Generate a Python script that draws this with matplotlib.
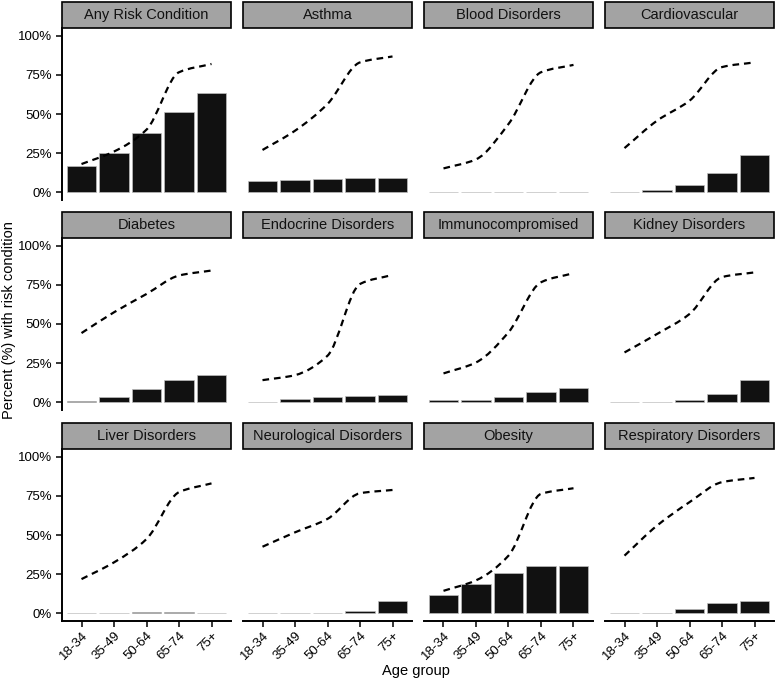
import numpy as np
import matplotlib.pyplot as plt
from matplotlib.path import Path
from matplotlib.patches import PathPatch, Rectangle

plt.rcParams['font.family'] = ['Liberation Sans', 'DejaVu Sans']

# data
age_groups = ['18-34', '35-49', '50-64', '65-74', '75+']
conditions = ['Any Risk Condition', 'Asthma', 'Blood Disorders', 'Cardiovascular',
              'Diabetes', 'Endocrine Disorders', 'Immunocompromised', 'Kidney Disorders',
              'Liver Disorders', 'Neurological Disorders', 'Obesity', 'Respiratory Disorders']

# percent of age group with the condition (bars)
any_risk = [16.9, 25.0, 37.6, 51.3, 63.2]
asthma = [7.0, 8.1, 8.5, 9.2, 8.8]
blood = [0.3, 0.3, 0.3, 0.3, 0.3]
cardio = [0.3, 1.2, 4.5, 12.0, 24.0]
diabetes = [0.9, 3.0, 8.3, 14.5, 17.3]
endocrine = [0.4, 1.9, 3.2, 3.8, 4.9]
immuno = [1.3, 1.7, 3.0, 6.4, 9.0]
kidney = [0.2, 0.4, 1.1, 5.3, 14.1]
liver = [0.2, 0.4, 0.6, 0.6, 0.4]
neuro = [0.1, 0.2, 0.3, 1.1, 7.9]
obesity = [11.5, 18.6, 26.0, 29.9, 29.9]
respiratory = [0.2, 0.4, 2.8, 6.2, 8.1]

# dashed line values
any_risk_line = [18.0, 26.0, 40.0, 76.7, 82.0]
asthma_line = [27.0, 39.3, 56.4, 83.0, 86.8]
blood_line = [15.2, 21.0, 43.6, 76.7, 81.4]
cardio_line = [28.2, 45.7, 58.5, 80.0, 83.0]
diabetes_line = [44.2, 57.5, 69.2, 81.0, 84.2]
endocrine_line = [14.1, 17.3, 29.7, 75.6, 81.4]
immuno_line = [18.4, 25.4, 44.7, 76.7, 82.5]
kidney_line = [31.8, 43.6, 56.4, 80.0, 83.0]
liver_line = [21.8, 32.5, 47.4, 77.4, 83.0]
neuro_line = [42.5, 51.7, 60.3, 76.7, 78.8]
obesity_line = [14.3, 21.0, 36.8, 76.3, 79.9]
respiratory_line = [36.8, 56.0, 71.0, 83.8, 86.5]

bars = [any_risk, asthma, blood, cardio, diabetes, endocrine,
        immuno, kidney, liver, neuro, obesity, respiratory]
lines = [any_risk_line, asthma_line, blood_line, cardio_line, diabetes_line, endocrine_line,
         immuno_line, kidney_line, liver_line, neuro_line, obesity_line, respiratory_line]


def smooth_path(xs, ys):
    # monotone cubic through the points (harmonic-mean slopes), as bezier segments
    xs = np.asarray(xs, float)
    ys = np.asarray(ys, float)
    sec = np.diff(ys) / np.diff(xs)
    m = np.zeros(len(xs))
    m[0], m[-1] = sec[0], sec[-1]
    for i in range(1, len(xs) - 1):
        a, b = sec[i - 1], sec[i]
        m[i] = 0 if a * b <= 0 else 2 / (1 / a + 1 / b)
    verts = [(xs[0], ys[0])]
    codes = [Path.MOVETO]
    for i in range(len(xs) - 1):
        h = xs[i + 1] - xs[i]
        verts += [(xs[i] + h / 3, ys[i] + m[i] * h / 3),
                  (xs[i + 1] - h / 3, ys[i + 1] - m[i + 1] * h / 3),
                  (xs[i + 1], ys[i + 1])]
        codes += [Path.CURVE4] * 3
    return Path(verts, codes)


W, H = 777, 681
fig = plt.figure(figsize=(W / 100, H / 100), dpi=100)

col_left = [62, 243, 424, 605]
panel_w = 169
row_top = [28, 238, 449]
panel_h = 172
strip_h = 26

x = np.arange(1, 6)
for k, name in enumerate(conditions):
    r, c = divmod(k, 4)
    left = col_left[c]
    top = row_top[r]
    ax = fig.add_axes([left / W, 1 - (top + panel_h) / H, panel_w / W, panel_h / H])
    ax.bar(x, np.array(bars[k]) / 100, width=0.9, color='#111111',
           edgecolor='#bdbdbd', linewidth=0.5, zorder=2)
    path = smooth_path(x, np.array(lines[k]) / 100)
    ax.add_patch(PathPatch(path, fill=False, edgecolor='black', linewidth=1.6,
                           linestyle=(0, (3.0, 2.2)), capstyle='butt', zorder=3))
    ax.set_xlim(0.4, 5.6)
    ax.set_ylim(-0.05, 1.05)
    ax.set_xticks(x)
    ax.set_yticks([0, 0.25, 0.5, 0.75, 1.0])
    for s in ['top', 'right']:
        ax.spines[s].set_visible(False)
    ax.tick_params(length=4, width=1.1, color='black', labelsize=9.5, colors='black')
    if c == 0:
        ax.set_yticklabels(['0%', '25%', '50%', '75%', '100%'])
        ax.spines['left'].set_linewidth(1.4)
    else:
        ax.spines['left'].set_visible(False)
        ax.tick_params(axis='y', left=False, labelleft=False)
    if r == 2:
        ax.set_xticklabels(age_groups, rotation=45, ha='right', va='top',
                           rotation_mode='anchor')
        ax.tick_params(axis='x', pad=2)
        ax.spines['bottom'].set_linewidth(1.4)
    else:
        ax.spines['bottom'].set_visible(False)
        ax.tick_params(axis='x', bottom=False, labelbottom=False)

    # strip
    sax = fig.add_axes([left / W, 1 - top / H, panel_w / W, strip_h / H])
    sax.add_patch(Rectangle((0, 0), 1, 1, transform=sax.transAxes,
                            facecolor='#a3a3a3', edgecolor='black', linewidth=1.2,
                            clip_on=False))
    sax.set_axis_off()
    sax.text(0.5, 0.5, name, ha='center', va='center', fontsize=10.5, color='#111111')

fig.text(9 / W, 1 - 320 / H, 'Percent (%) with risk condition', rotation=90,
         ha='center', va='center', fontsize=10.5)
fig.text(416 / W, 1 - 671 / H, 'Age group', ha='center', va='center', fontsize=10.5)

fig.savefig('out.png', dpi=100, facecolor='white')
